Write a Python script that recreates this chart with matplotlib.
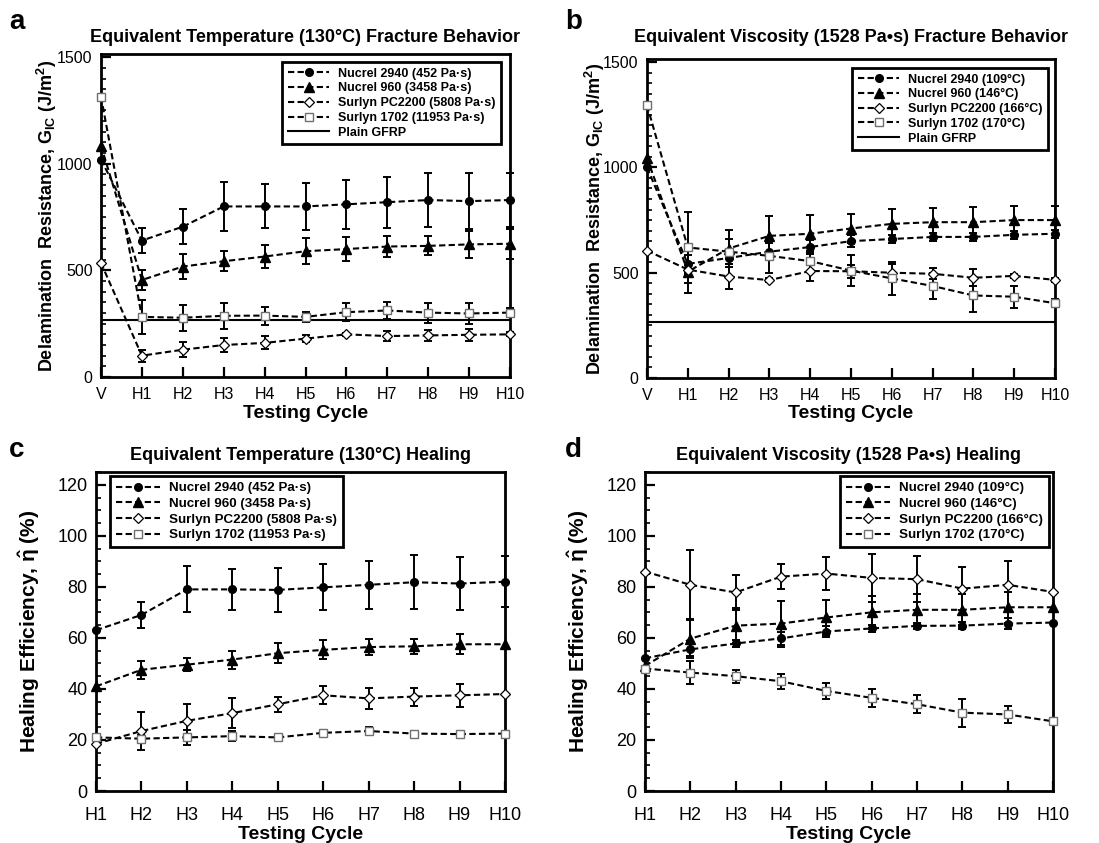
import matplotlib
matplotlib.use('Agg')
import matplotlib.pyplot as plt
from matplotlib.ticker import MultipleLocator, FixedLocator

plt.rcParams['font.family'] = ['Liberation Sans', 'DejaVu Sans']
plt.rcParams['mathtext.fontset'] = 'custom'
plt.rcParams['mathtext.rm'] = 'Liberation Sans'
plt.rcParams['mathtext.bf'] = 'Liberation Sans:bold'
plt.rcParams['mathtext.it'] = 'Liberation Sans:italic'

# ---------------- data ----------------
cycles_ab = ['V', 'H1', 'H2', 'H3', 'H4', 'H5', 'H6', 'H7', 'H8', 'H9', 'H10']
cycles_cd = ['H1', 'H2', 'H3', 'H4', 'H5', 'H6', 'H7', 'H8', 'H9', 'H10']

# (a) Equivalent temperature fracture, G_IC (J/m^2)
a_n2940 = [1020, 640, 705, 800, 800, 800, 810, 820, 830, 825, 830]
a_n2940_err = [0, 60, 83, 113, 103, 111, 115, 120, 127, 130, 125]
a_n960 = [1085, 455, 518, 543, 565, 590, 600, 612, 615, 622, 625]
a_n960_err = [0, 45, 57, 47, 53, 60, 58, 48, 45, 63, 70]
a_pc2200 = [535, 100, 128, 150, 160, 180, 200, 192, 195, 198, 200]
a_pc2200_err = [0, 28, 35, 33, 31, 15, 8, 22, 24, 27, 10]
a_s1702 = [1315, 282, 278, 287, 288, 282, 304, 312, 302, 298, 302]
a_s1702_err = [0, 78, 60, 60, 42, 23, 42, 39, 47, 50, 20]
plain_gfrp = 268

# (b) Equivalent viscosity fracture
b_n2940 = [1000, 542, 570, 600, 622, 650, 660, 670, 670, 680, 685]
b_n2940_err = [0, 40, 30, 40, 35, 30, 20, 20, 20, 20, 20]
b_n960 = [1045, 505, 615, 675, 685, 710, 732, 740, 740, 750, 750]
b_n960_err = [0, 100, 90, 95, 90, 70, 72, 68, 70, 65, 65]
b_pc2200 = [605, 515, 482, 465, 508, 507, 500, 495, 476, 485, 466]
b_pc2200_err = [0, 20, 60, 10, 45, 30, 40, 27, 40, 10, 10]
b_s1702 = [1295, 620, 600, 580, 555, 510, 473, 437, 392, 386, 355]
b_s1702_err = [0, 170, 60, 80, 50, 75, 77, 62, 80, 53, 20]

# (c) Equivalent temperature healing efficiency (%)
c_n2940 = [63, 69, 79, 79, 78.8, 79.8, 80.8, 81.8, 81.3, 82]
c_n2940_err = [0, 5, 9, 8, 8.5, 9, 9.5, 10.5, 10.5, 10]
c_n960 = [41, 47.5, 49.5, 51.5, 54, 55.3, 56.4, 56.7, 57.5, 57.5]
c_n960_err = [0, 3.5, 2.5, 3.5, 4, 3.7, 3, 3, 4, 0]
c_pc2200 = [18.5, 23.5, 27.5, 30.5, 34, 37.5, 36.3, 37, 37.5, 38]
c_pc2200_err = [0, 7.5, 6.5, 6, 3, 3.5, 4, 3.5, 4.5, 0]
c_s1702 = [21, 20.5, 21, 21.5, 21, 22.8, 23.5, 22.5, 22.3, 22.5]
c_s1702_err = [0, 1.5, 3, 2, 0.5, 0.8, 1.5, 1, 1.2, 0]

# (d) Equivalent viscosity healing efficiency (%)
d_n2940 = [52, 55.5, 57.8, 59.8, 62.5, 63.7, 64.7, 64.8, 65.6, 66]
d_n2940_err = [0, 2.5, 1.5, 2.5, 2, 1.5, 1.3, 1.5, 2, 0]
d_n960 = [49, 59.7, 64.8, 65.6, 68, 70, 71, 71, 72, 72]
d_n960_err = [0, 7.5, 7, 9, 7, 6.5, 6, 6, 6, 0]
d_pc2200 = [86, 80.8, 77.8, 84, 85.2, 83.5, 83, 79.3, 80.8, 78]
d_pc2200_err = [0, 13.5, 7, 5, 6.5, 9.5, 9, 8.3, 9.5, 0]
d_s1702 = [48, 46.4, 45, 43, 39.2, 36.5, 34, 30.7, 30, 27.3]
d_s1702_err = [0, 4.5, 2.5, 3, 3, 3.5, 3.5, 5.5, 3.3, 0]

labels_temp = ['Nucrel 2940 (452 Pa·s)', 'Nucrel 960 (3458 Pa·s)',
               'Surlyn PC2200 (5808 Pa·s)', 'Surlyn 1702 (11953 Pa·s)']
labels_visc = ['Nucrel 2940 (109°C)', 'Nucrel 960 (146°C)',
               'Surlyn PC2200 (166°C)', 'Surlyn 1702 (170°C)']

# ---------------- styles ----------------
styles = [
    dict(marker='o', ms=5.5, mfc='black', mec='black', mew=1.0),
    dict(marker='^', ms=6.5, mfc='black', mec='black', mew=1.0),
    dict(marker='D', ms=5.5, mfc='white', mec='black', mew=0.9),
    dict(marker='s', ms=6, mfc='white', mec='#707070', mew=1.0),
]

W, H = 1099, 843
fig = plt.figure(figsize=(W / 100, H / 100), dpi=100)


def box(l, t, r, b):
    return [l / W, 1 - b / H, (r - l) / W, (b - t) / H]


def draw(ax, cats, series, errs, labels, ylim, yticks, yminor, tick_fs,
         xpad, gfrp=None):
    x = list(range(len(cats)))
    handles = []
    for y, e, lab, st in zip(series, errs, labels, styles):
        idx = [i for i in x if e[i] > 0]
        ax.errorbar([x[i] for i in idx], [y[i] for i in idx],
                    yerr=[e[i] for i in idx], fmt='none', ecolor='black',
                    elinewidth=1.4, capsize=3.2, capthick=1.4, zorder=2,
                    clip_on=False)
        ln, = ax.plot(x, y, ls='--', dashes=(3, 1.6), color='black', lw=1.5,
                      zorder=3, clip_on=False, label=lab, **st)
        handles.append(ln)
    if gfrp is not None:
        g, = ax.plot([x[0], x[-1]], [gfrp, gfrp], color='black', lw=1.5,
                     zorder=2, label='Plain GFRP')
        handles.append(g)
    ax.set_xlim(0, len(cats) - 1)
    ax.set_ylim(*ylim)
    ax.xaxis.set_major_locator(FixedLocator(x))
    ax.set_xticklabels(cats)
    ax.set_yticks(yticks)
    ax.yaxis.set_minor_locator(MultipleLocator(yminor))
    ax.tick_params(axis='both', which='major', direction='in', length=7,
                   width=1.6, labelsize=tick_fs, top=False, right=False)
    ax.tick_params(axis='y', which='minor', direction='in', length=3.5,
                   width=1.2, right=False)
    ax.tick_params(axis='y', which='major', pad=6)
    ax.tick_params(axis='x', which='major', pad=xpad)
    for sp in ax.spines.values():
        sp.set_linewidth(2.0)
    return handles


def legend(ax, handles, loc, anchor, fs, spacing):
    leg = ax.legend(handles=handles, loc=loc, bbox_to_anchor=anchor,
                    borderaxespad=0, fancybox=False, framealpha=1,
                    edgecolor='black', prop=dict(weight='bold', size=fs),
                    handlelength=3.3, handletextpad=0.7, labelspacing=spacing,
                    borderpad=0.45, numpoints=1)
    leg.get_frame().set_linewidth(2.0)
    return leg


ylab_g = r'Delamination  Resistance, G$_{\mathbf{IC}}$ (J/m$^{\mathbf{2}}$)'
ylab_h = r'Healing Efficiency, $\mathbf{\hat{\eta}}$ (%)'

# (a)
axA = fig.add_axes(box(101, 54, 510, 377))
hA = draw(axA, cycles_ab, [a_n2940, a_n960, a_pc2200, a_s1702],
          [a_n2940_err, a_n960_err, a_pc2200_err, a_s1702_err],
          labels_temp, (0, 1515), [0, 500, 1000, 1500], 50, 11.5, 7,
          plain_gfrp)
legend(axA, hA, 'upper right', (0.978, 0.975), 9, 0.22)
axA.set_title('Equivalent Temperature (130°C) Fracture Behavior',
              fontsize=13, fontweight='bold', pad=9)
axA.set_ylabel(ylab_g, fontsize=13, fontweight='bold', labelpad=-1)
axA.set_xlabel('Testing Cycle', fontsize=14, fontweight='bold', labelpad=2)

# (b)
axB = fig.add_axes(box(647, 59, 1055, 378))
hB = draw(axB, cycles_ab, [b_n2940, b_n960, b_pc2200, b_s1702],
          [b_n2940_err, b_n960_err, b_pc2200_err, b_s1702_err],
          labels_visc, (0, 1515), [0, 500, 1000, 1500], 50, 11.5, 7,
          plain_gfrp)
legend(axB, hB, 'upper right', (0.983, 0.972), 9, 0.22)
axB.set_title('Equivalent Viscosity (1528 Pa•s) Fracture Behavior',
              fontsize=13, fontweight='bold', pad=12)
axB.set_ylabel(ylab_g, fontsize=13, fontweight='bold', labelpad=-2.5)
axB.set_xlabel('Testing Cycle', fontsize=14, fontweight='bold', labelpad=2)

# (c)
axC = fig.add_axes(box(96, 472, 505, 791))
hC = draw(axC, cycles_cd, [c_n2940, c_n960, c_pc2200, c_s1702],
          [c_n2940_err, c_n960_err, c_pc2200_err, c_s1702_err],
          labels_temp, (0, 125), list(range(0, 121, 20)), 5, 13, 11.5)
legend(axC, hC, 'upper left', (0.034, 0.987), 9.6, 0.25)
axC.set_title('Equivalent Temperature (130°C) Healing',
              fontsize=13, fontweight='bold', pad=9)
axC.set_ylabel(ylab_h, fontsize=15, fontweight='bold', labelpad=11)
axC.set_xlabel('Testing Cycle', fontsize=14, fontweight='bold', labelpad=1.5)

# (d)
axD = fig.add_axes(box(645, 472, 1053, 791))
hD = draw(axD, cycles_cd, [d_n2940, d_n960, d_pc2200, d_s1702],
          [d_n2940_err, d_n960_err, d_pc2200_err, d_s1702_err],
          labels_visc, (0, 125), list(range(0, 121, 20)), 5, 13, 11.5)
legend(axD, hD, 'upper right', (0.99, 0.987), 9.6, 0.25)
axD.set_title('Equivalent Viscosity (1528 Pa•s) Healing',
              fontsize=13, fontweight='bold', pad=9)
axD.set_ylabel(ylab_h, fontsize=15, fontweight='bold', labelpad=11)
axD.set_xlabel('Testing Cycle', fontsize=14, fontweight='bold', labelpad=1.5)

for lbl, (px, py) in zip('abcd', [(17, 22), (574, 22), (17, 450), (573, 450)]):
    fig.text(px / W, 1 - py / H, lbl, fontsize=20, fontweight='bold',
             ha='center', va='center')

fig.savefig('out.png', dpi=100)
